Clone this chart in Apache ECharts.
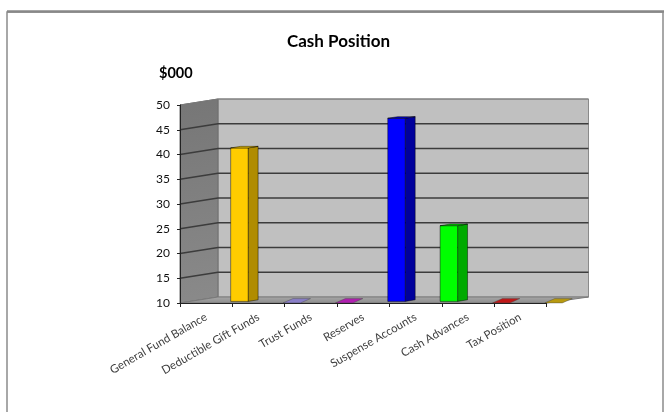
<!DOCTYPE html>
<html>
<head>
<meta charset="utf-8">
<script src="https://cdn.jsdelivr.net/npm/echarts@6/dist/echarts.min.js"></script>
<style>
  html, body { margin: 0; padding: 0; background: #fff; }
  #chart { width: 664px; height: 412px; }
</style>
</head>
<body>
<div id="chart"></div>
<script>
// Cash position by account, in thousands of dollars
const categories = [
  'General Fund Balance', 'Deductible Gift Funds', 'Trust Funds', 'Reserves',
  'Suspense Accounts', 'Cash Advances', 'Tax Position'
];
const cashValues = [41, 0, 0, 47, 25.3, 0, 0];
const yTicks = [10, 15, 20, 25, 30, 35, 40, 45, 50];

// per-column face colours: front, side, top
const barColors = [
  ['#FFCC00', '#B08C00', '#E8BC00'],
  ['#9999FF', '#6666CC', '#8A7FC8'],
  ['#CC33CC', '#992299', '#B020B0'],
  ['#0000FF', '#00009C', '#0000C8'],
  ['#00FF00', '#00AA00', '#00D400'],
  ['#CC0000', '#990000', '#C01818'],
  ['#CCAA00', '#997F00', '#B89A10']
];

const Y_MIN = yTicks[0];
const Y_MAX = yTicks[yTicks.length - 1];
const Y_STEP = yTicks[1] - yTicks[0];

// fake 3-D depth of the plot box
const DX_L = 38, DX_R = 42, DY = -6;
const FONT = 'Lato, "Open Sans", sans-serif';

function renderWalls(params, api) {
  const band = api.size([1, 0])[0];
  const pMin = api.coord([0, Y_MIN]);
  const pMax = api.coord([categories.length - 1, Y_MAX]);
  const x0 = pMin[0] - band / 2, x1 = pMax[0] + band / 2;
  const yB = pMin[1], yT = pMax[1];
  const children = [];
  // back wall
  children.push({
    type: 'polygon',
    shape: { points: [[x0 + DX_L, yT + DY], [x1 + DX_R, yT + DY], [x1 + DX_R, yB + DY], [x0 + DX_L, yB + DY]] },
    style: { fill: '#C0C0C0', stroke: '#8A8A8A', lineWidth: 1 }
  });
  // side wall
  children.push({
    type: 'polygon',
    shape: { points: [[x0, yT], [x0 + DX_L, yT + DY], [x0 + DX_L, yB + DY], [x0, yB]] },
    style: {
      fill: new echarts.graphic.LinearGradient(0, 0, 1, 1, [
        { offset: 0, color: '#767676' }, { offset: 1, color: '#8A8A8A' }
      ]),
      stroke: '#6E6E6E', lineWidth: 1
    }
  });
  // floor
  children.push({
    type: 'polygon',
    shape: { points: [[x0, yB], [x0 + DX_L, yB + DY], [x1 + DX_R, yB + DY], [x1, yB]] },
    style: {
      fill: new echarts.graphic.LinearGradient(0, 0, 0, 1, [
        { offset: 0, color: '#A8A8A8' }, { offset: 1, color: '#8C8C8C' }
      ]),
      stroke: '#7A7A7A', lineWidth: 1
    }
  });
  // gridlines across side and back walls
  yTicks.forEach(function (v) {
    if (v === Y_MIN) return;
    const y = api.coord([0, v])[1];
    children.push({
      type: 'polyline',
      shape: { points: [[x0, y], [x0 + DX_L, y + DY], [x1 + DX_R, y + DY]] },
      style: { stroke: v === Y_MAX ? '#7A7A7A' : '#3C3C3C', lineWidth: v === Y_MAX ? 1 : 1.6, fill: null }
    });
  });
  return { type: 'group', children: children };
}

function renderColumn(params, api) {
  const i = api.value(0);
  const v = api.value(1);
  const band = api.size([1, 0])[0];
  const c = api.coord([i, Y_MIN]);
  const lift = 1.6;
  const base = c[1] - lift;
  const top = api.coord([i, Math.max(v, Y_MIN)])[1] - lift;
  const xL = c[0] + band * 0.468;
  const w = band * 0.334;
  const xR = xL + w;
  const d = band * 0.19;
  const rise = 1.6;
  const col = barColors[i];
  const edge = 'rgba(0,0,0,0.55)';
  const children = [];
  if (v > Y_MIN) {
    children.push({
      type: 'polygon',
      shape: { points: [[xR, top], [xR + d, top - rise], [xR + d, base - rise], [xR, base]] },
      style: { fill: col[1], stroke: edge, lineWidth: 0.8 }
    });
    children.push({
      type: 'rect',
      shape: { x: xL, y: top, width: w, height: base - top },
      style: { fill: col[0], stroke: edge, lineWidth: 0.8 }
    });
    children.push({
      type: 'polygon',
      shape: { points: [[xL, top], [xR, top], [xR + d, top - rise], [xL + d, top - rise]] },
      style: { fill: col[2], stroke: edge, lineWidth: 0.8 }
    });
  } else {
    // value sits below the axis minimum: only the flattened top shows on the floor
    children.push({
      type: 'polygon',
      shape: { points: [[xL, base + 1.5], [xR, base + 1.5], [xR + d, base - rise - 1.2], [xL + d, base - rise - 1.2]] },
      style: { fill: col[2], stroke: 'rgba(70,70,70,0.6)', lineWidth: 0.7 }
    });
  }
  return { type: 'group', children: children };
}

const chart = echarts.init(document.getElementById('chart'), null, { renderer: 'canvas' });
chart.setOption({
  animation: false,
  backgroundColor: '#fff',
  title: [
    { text: 'Cash Position', left: 282, top: 28,
      textStyle: { fontFamily: FONT, fontSize: 17, fontWeight: 'bold', color: '#000' } },
    { text: '$000', left: 154, top: 61,
      textStyle: { fontFamily: FONT, fontSize: 14.5, fontWeight: 'bold', color: '#000' } }
  ],
  graphic: [
    { type: 'rect', shape: { x: 7, y: 12, width: 656, height: 410 },
      style: { fill: null, stroke: '#8C8C8C', lineWidth: 1.5 }, z: 10 },
    { type: 'line', shape: { x1: 7, y1: 11.5, x2: 664, y2: 11.5 },
      style: { stroke: '#888', lineWidth: 2.5 }, z: 10 }
  ],
  grid: { left: 180, top: 105, width: 366.5, height: 198, containLabel: false, outerBoundsMode: 'none' },
  xAxis: {
    type: 'category',
    data: categories,
    z: 5,
    axisLine: { show: true, lineStyle: { color: '#222', width: 1 } },
    axisTick: { show: true, length: 4, alignWithLabel: false, lineStyle: { color: '#222' } },
    axisLabel: { rotate: 30, interval: 0, margin: 13, fontSize: 11.5, color: '#404040', fontFamily: FONT },
    splitLine: { show: false }
  },
  yAxis: {
    type: 'value',
    min: Y_MIN, max: Y_MAX, interval: Y_STEP,
    z: 5,
    axisLine: { show: true, lineStyle: { color: '#222', width: 1 } },
    axisTick: { show: true, length: 3, lineStyle: { color: '#222' } },
    axisLabel: { margin: 10, fontSize: 12, color: '#111', fontFamily: FONT },
    splitLine: { show: false }
  },
  series: [
    { type: 'custom', name: 'walls', clip: false, z: 1, silent: true,
      data: [[0, Y_MIN]], renderItem: renderWalls },
    { type: 'custom', name: 'Cash', clip: false, z: 3,
      data: cashValues.map(function (v, i) { return [i, v]; }), renderItem: renderColumn }
  ]
});
</script>
</body>
</html>
